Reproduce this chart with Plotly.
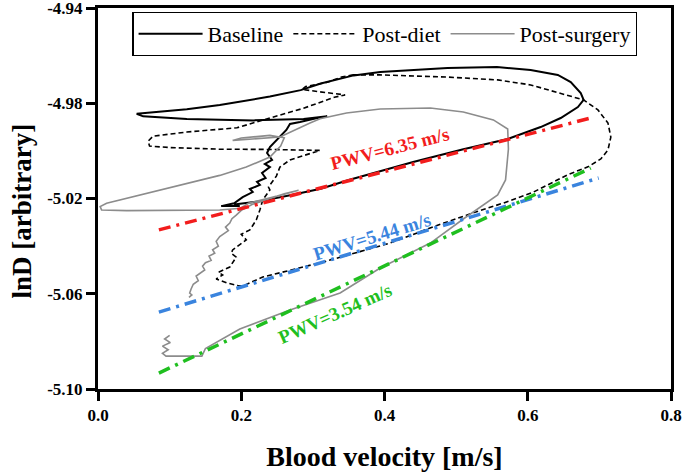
import plotly.graph_objects as go

# ---------------- data ----------------
baseline_x = [0.190, 0.227, 0.270, 0.311, 0.350, 0.394, 0.440, 0.510, 0.572, 0.618, 0.646, 0.670, 0.678,
              0.674, 0.660, 0.642, 0.604, 0.557, 0.488, 0.394, 0.357, 0.311, 0.283, 0.240, 0.170, 0.124,
              0.077, 0.054, 0.063, 0.124, 0.217, 0.287, 0.320, 0.306, 0.282, 0.268, 0.263, 0.254, 0.249,
              0.240, 0.236, 0.243, 0.233, 0.240, 0.229, 0.234, 0.222, 0.226, 0.212, 0.216, 0.202, 0.190,
              0.172, 0.198]
baseline_y = [-5.0225, -5.0211, -5.0185, -5.0159, -5.0122, -5.0085, -5.0047, -4.9993, -4.9950, -4.9900,
              -4.9862, -4.9816, -4.9786, -4.9757, -4.9711, -4.9681, -4.9660, -4.9648, -4.9652, -4.9669,
              -4.9683, -4.9717, -4.9745, -4.9772, -4.9807, -4.9825, -4.9837, -4.9844, -4.9855, -4.9866,
              -4.9872, -4.9866, -4.9855, -4.9862, -4.9879, -4.9887, -4.9912, -4.9942, -4.9954, -4.9984,
              -5.0009, -5.0038, -5.0055, -5.0068, -5.0093, -5.0114, -5.0130, -5.0143, -5.0160, -5.0173,
              -5.0194, -5.0220, -5.0232, -5.0232]

diet_x = [0.356, 0.394, 0.488, 0.558, 0.604, 0.642, 0.678, 0.698, 0.712, 0.716, 0.712, 0.702, 0.684, 0.656,
          0.608, 0.566, 0.524, 0.468, 0.408, 0.314, 0.230, 0.202, 0.195, 0.180, 0.165, 0.174, 0.168, 0.184,
          0.193, 0.186, 0.188, 0.207, 0.200, 0.212, 0.221, 0.226, 0.230, 0.240, 0.238, 0.249, 0.254, 0.268,
          0.282, 0.310, 0.240, 0.170, 0.100, 0.072, 0.070, 0.077, 0.124, 0.194, 0.240, 0.287, 0.330, 0.345,
          0.310, 0.285, 0.290, 0.320, 0.340, 0.356]
diet_y = [-4.9681, -4.9681, -4.9690, -4.9702, -4.9723, -4.9757, -4.9786, -4.9828, -4.9883, -4.9942, -4.9996,
          -5.0034, -5.0067, -5.0100, -5.0173, -5.0219, -5.0260, -5.0319, -5.0387, -5.0467, -5.0530, -5.0568,
          -5.0565, -5.0555, -5.0538, -5.0521, -5.0510, -5.0488, -5.0446, -5.0430, -5.0416, -5.0374, -5.0350,
          -5.0332, -5.0290, -5.0248, -5.0206, -5.0164, -5.0152, -5.0106, -5.0068, -5.0038, -5.0025, -4.9998,
          -4.9994, -4.9993, -4.9986, -4.9980, -4.9959, -4.9938, -4.9921, -4.9903, -4.9862, -4.9821, -4.9775,
          -4.9765, -4.9752, -4.9742, -4.9730, -4.9712, -4.9690, -4.9681]

surgery_x = [0.100, 0.093, 0.101, 0.090, 0.098, 0.090, 0.095, 0.120, 0.145, 0.150, 0.198, 0.268, 0.338,
             0.394, 0.464, 0.510, 0.558, 0.569, 0.573, 0.572, 0.552, 0.510, 0.464, 0.394, 0.347, 0.310,
             0.296, 0.254, 0.210, 0.188, 0.200, 0.240, 0.260, 0.255, 0.240, 0.207, 0.170, 0.120, 0.077,
             0.030, 0.012, 0.003, 0.005, 0.040, 0.077, 0.170, 0.199, 0.210, 0.250, 0.280, 0.260, 0.215,
             0.200, 0.193, 0.187, 0.184, 0.178, 0.182, 0.170, 0.165, 0.168, 0.160, 0.163, 0.155, 0.158,
             0.150, 0.146, 0.149, 0.142, 0.137, 0.140, 0.133, 0.130, 0.128, 0.131, 0.127]
surgery_y = [-5.0775, -5.0790, -5.0805, -5.0820, -5.0835, -5.0850, -5.0862, -5.0862, -5.0862, -5.0830,
             -5.0748, -5.0668, -5.0597, -5.0492, -5.0387, -5.0286, -5.0185, -5.0122, -4.9992, -4.9908,
             -4.9870, -4.9837, -4.9820, -4.9824, -4.9841, -4.9865, -4.9883, -4.9942, -4.9952, -4.9956,
             -4.9946, -4.9935, -4.9945, -4.9980, -5.0026, -5.0068, -5.0103, -5.0140, -5.0172, -5.0205,
             -5.0220, -5.0234, -5.0248, -5.0251, -5.0251, -5.0248, -5.0241, -5.0220, -5.0190, -5.0165,
             -5.0180, -5.0225, -5.0250, -5.0270, -5.0285, -5.0303, -5.0320, -5.0335, -5.0360, -5.0380,
             -5.0400, -5.0415, -5.0430, -5.0442, -5.0460, -5.0470, -5.0484, -5.0500, -5.0515, -5.0526,
             -5.0545, -5.0560, -5.0580, -5.0597, -5.0605, -5.0615]

red_x = [0.085, 0.688]
red_y = [-5.0332, -4.9862]
blue_x = [0.085, 0.699]
blue_y = [-5.0677, -5.0114]
green_x = [0.085, 0.688]
green_y = [-5.0933, -5.0072]

series_names = ["Baseline", "Post-diet", "Post-surgery"]
pwv_labels = ["PWV=6.35 m/s", "PWV=5.44 m/s", "PWV=3.54 m/s"]
pwv_pos_x = [0.408, 0.383, 0.331]
pwv_pos_y = [-4.9990, -5.0358, -5.0681]
pwv_angles = [-14.5, -17, -24]

x_ticks = [0.0, 0.2, 0.4, 0.6, 0.8]
x_ticktext = ["0.0", "0.2", "0.4", "0.6", "0.8"]
y_ticks = [-4.94, -4.98, -5.02, -5.06, -5.10]
y_ticktext = ["-4.94", "-4.98", "-5.02", "-5.06", "-5.10"]
x_title = "Blood velocity [m/s]"
y_title = "lnD [arbitrary]"

SERIF = "Liberation Serif"
RED, BLUE, GREEN = "#f21d1d", "#3a84de", "#1fbf1f"

fig = go.Figure()
fig.add_trace(go.Scatter(x=baseline_x, y=baseline_y, mode="lines", name=series_names[0],
                         line=dict(color="black", width=2)))
fig.add_trace(go.Scatter(x=diet_x, y=diet_y, mode="lines", name=series_names[1],
                         line=dict(color="black", width=1.6, dash="5px,3px")))
fig.add_trace(go.Scatter(x=surgery_x, y=surgery_y, mode="lines", name=series_names[2],
                         line=dict(color="#8c8c8c", width=1.6)))

for xs, ys, c in [(red_x, red_y, RED), (blue_x, blue_y, BLUE), (green_x, green_y, GREEN)]:
    fig.add_trace(go.Scatter(x=xs, y=ys, mode="lines", showlegend=False,
                             line=dict(color=c, width=3.5, dash="12px,6px,3px,6px")))

for lbl, ax_, ay_, ang, c in zip(pwv_labels, pwv_pos_x, pwv_pos_y, pwv_angles, [RED, BLUE, GREEN]):
    fig.add_annotation(x=ax_, y=ay_, text=lbl, showarrow=False, textangle=ang,
                       font=dict(family=SERIF, size=19, color=c, weight="bold"))

# y-axis title placed as a rotated paper-anchored label
fig.add_annotation(xref="paper", yref="paper", x=-0.133, y=0.468, text=y_title,
                   showarrow=False, textangle=-90, xanchor="center", yanchor="middle",
                   font=dict(family=SERIF, size=27, color="black", weight="bold"))

fig.update_layout(
    width=685, height=474,
    margin=dict(l=98, r=14, t=8, b=85, autoexpand=False),
    paper_bgcolor="white", plot_bgcolor="white",
    showlegend=True,
    legend=dict(orientation="h", x=0.06, y=0.99, xanchor="left", yanchor="top",
                bordercolor="black", borderwidth=1.2, bgcolor="white",
                font=dict(family=SERIF, size=22, color="black"),
                itemwidth=64),
    xaxis=dict(range=[0, 0.8], tickvals=x_ticks, ticktext=x_ticktext,
               showline=True, linecolor="black", linewidth=3, mirror=True,
               ticks="outside", ticklen=9, tickwidth=3, tickcolor="black",
               showgrid=False, zeroline=False, automargin=False, ticklabeloverflow="allow",
               tickfont=dict(family=SERIF, size=17, color="black", weight="bold"),
               title=dict(text=x_title, standoff=22,
                          font=dict(family=SERIF, size=28, color="black", weight="bold"))),
    yaxis=dict(range=[-5.10, -4.94], tickvals=y_ticks, ticktext=y_ticktext,
               showline=True, linecolor="black", linewidth=3, mirror=True,
               ticks="outside", ticklen=9, tickwidth=3, tickcolor="black",
               showgrid=False, zeroline=False, automargin=False, ticklabeloverflow="allow",
               tickfont=dict(family=SERIF, size=17, color="black", weight="bold")),
)

fig.write_html("out.html", config={"displayModeBar": False},
               post_script="document.body.style.margin='0';document.body.style.padding='0';")
